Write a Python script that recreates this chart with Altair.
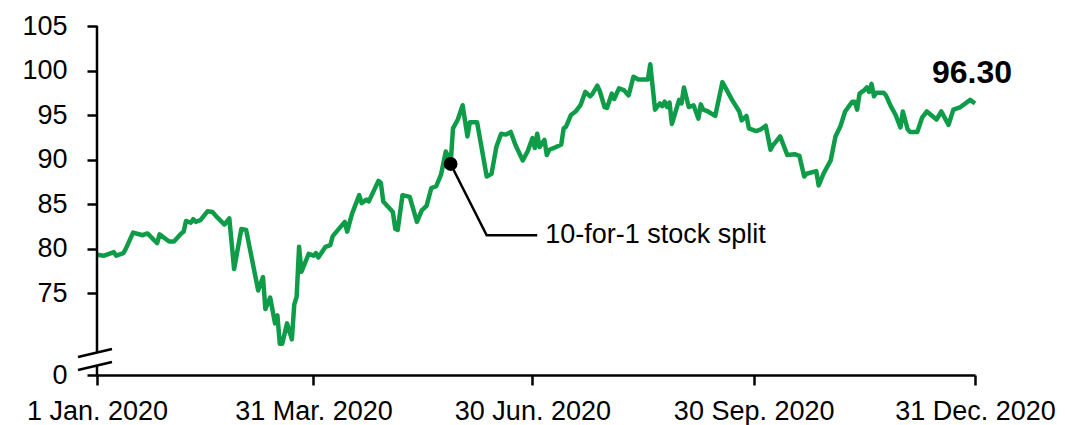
import altair as alt
import pandas as pd

# Closing price through 2020: calendar-day offset from 1 Jan. 2020 and price
day = [0, 3, 7, 8, 11, 12, 15, 19, 21, 25, 26, 30, 32, 35, 36, 37, 39, 40, 41, 43,
       46, 48, 50, 53, 55, 57, 60, 62, 67, 69, 70, 72, 74, 75, 76, 77, 79, 81, 82, 83,
       84, 85, 88, 90, 91, 92, 95, 97, 98, 103, 104, 106, 109, 110, 112, 113, 117, 118, 119, 123,
       124, 125, 127, 130, 133, 135, 137, 139, 141, 143, 145, 146, 147, 148, 150, 152, 154, 155, 158, 162,
       164, 166, 168, 170, 172, 174, 177, 179, 181, 182, 183, 184, 186, 187, 188, 190, 193, 194, 195, 197,
       199, 201, 203, 205, 206, 208, 209, 211, 212, 214, 215, 217, 219, 221, 223, 225, 229, 230, 232, 234,
       235, 236, 237, 238, 239, 242, 243, 244, 246, 248, 250, 251, 252, 254, 257, 260, 264, 267, 268, 270,
       271, 274, 276, 278, 280, 281, 284, 287, 290, 292, 294, 295, 299, 300, 302, 305, 307, 309, 311, 314,
       315, 316, 317, 319, 320, 321, 322, 323, 324, 327, 328, 330, 332, 334, 335, 337, 338, 341, 343, 345,
       349, 351, 354, 356, 359, 363, 365]
price = [79.3, 79.2, 79.6, 79.2, 79.5, 80.0, 81.8, 81.5, 81.7, 80.6, 81.6, 80.8, 80.8, 81.7, 81.9, 83.1, 82.9, 83.3, 83.0, 83.2,
         84.2, 84.1, 83.5, 82.7, 83.4, 77.7, 82.2, 82.1, 75.3, 76.8, 73.2, 74.5, 71.6, 72.5, 69.3, 69.3, 71.6, 69.8, 73.7, 74.6,
         80.2, 77.4, 79.4, 79.2, 79.5, 79.0, 80.2, 80.4, 81.4, 83.0, 81.9, 83.9, 86.0, 85.1, 85.5, 85.3, 87.6, 87.4, 85.3, 84.1,
         82.2, 82.1, 86.0, 85.8, 83.0, 84.3, 84.8, 86.8, 87.0, 88.3, 90.9, 90.3, 89.5, 93.5, 94.5, 96.1, 92.6, 94.2, 94.2, 88.1,
         88.4, 91.4, 92.9, 92.8, 93.1, 91.6, 89.9, 90.9, 92.4, 91.3, 92.9, 91.4, 92.2, 90.5, 91.1, 91.3, 91.7, 93.5, 93.7, 95.0,
         95.4, 96.1, 97.6, 97.1, 97.4, 98.3, 97.7, 95.9, 95.8, 97.4, 96.8, 98.0, 97.8, 97.2, 99.3, 99.0, 99.0, 100.7, 95.6, 96.3,
         96.0, 96.5, 95.9, 96.4, 94.0, 96.7, 96.3, 98.1, 95.9, 96.1, 94.6, 96.2, 95.6, 95.4, 94.9, 98.7, 96.7, 95.4, 94.4, 94.9,
         93.5, 93.2, 93.4, 93.8, 91.1, 91.6, 92.6, 90.5, 90.6, 90.4, 88.1, 88.4, 88.7, 87.1, 88.4, 89.9, 92.6, 93.7, 95.4, 96.5,
         96.5, 95.6, 97.4, 97.8, 98.1, 97.6, 98.5, 97.1, 97.5, 97.5, 97.2, 96.0, 95.0, 93.6, 95.4, 93.4, 93.1, 93.1, 94.7, 95.4,
         94.5, 95.4, 93.9, 95.6, 95.9, 96.7, 96.3]

# Stock split event and its callout
split_day = 147
split_label = "10-for-1 stock split"
leader_day = [147, 162, 183]
leader_price = [89.5, 81.5, 81.5]

# Axis ticks
x_tick_days = [0, 90, 181, 273, 365]
y_ticks = [65.8, 75, 80, 85, 90, 95, 100, 105]
y_floor, y_top = 65.8, 105

GREEN = "#0e9c48"
FONT = "Liberation Sans"
start = pd.Timestamp("2020-01-01")


def to_date(d):
    return (start + pd.Timedelta(days=d)).strftime("%Y-%m-%d")


def to_dt(d):
    t = start + pd.Timedelta(days=d)
    return alt.DateTime(year=t.year, month=t.month, date=t.day, utc=True)


df = pd.DataFrame({"date": [to_date(d) for d in day], "price": price})
split_df = df[df["date"] == to_date(split_day)]
last_df = df.tail(1)
leader_df = pd.DataFrame({"date": [to_date(d) for d in leader_day],
                          "price": leader_price,
                          "order": list(range(len(leader_day)))})
label_df = pd.DataFrame({"date": [to_date(leader_day[-1])], "price": [leader_price[-1]], "text": [split_label]})
one = pd.DataFrame({"k": [0]})

x_scale = alt.Scale(type="utc", domain=[to_dt(0), to_dt(365)])
y_scale = alt.Scale(domain=[y_floor, y_top], nice=False, zero=False)

x_enc = alt.X(
    "date:T", scale=x_scale, title=None,
    axis=alt.Axis(values=[to_dt(d) for d in x_tick_days],
                  labelExpr="utcFormat(datum.value, '%-d %b. %Y')",
                  grid=False, domainColor="black", domainWidth=2.5, tickColor="black", tickWidth=2.5,
                  tickSize=10, labelFontSize=27, labelFont=FONT, labelColor="black", labelPadding=13,
                  labelFlush=False, labelOverlap=False, labelBound=False),
)
y_enc = alt.Y(
    "price:Q", scale=y_scale, title=None,
    axis=alt.Axis(values=y_ticks, labelExpr="datum.value < 70 ? '0' : format(datum.value, 'd')",
                  grid=False, domain=False, tickColor="black", tickWidth=2.5, tickSize=10,
                  labelFontSize=27, labelFont=FONT, labelColor="black", labelPadding=20),
)

line = alt.Chart(df).mark_line(color=GREEN, strokeWidth=4.5, strokeJoin="round").encode(x=x_enc, y=y_enc)

# y-axis line with a break just above the zero mark
axis_upper = alt.Chart(one).mark_rule(color="black", strokeWidth=2.5).encode(
    x=alt.value(0), y=alt.value(0), y2=alt.value(327))
axis_lower = alt.Chart(one).mark_rule(color="black", strokeWidth=2.5).encode(
    x=alt.value(0), y=alt.value(340), y2=alt.value(349))
slash_a = alt.Chart(one).mark_rule(color="black", strokeWidth=2.5).encode(
    x=alt.value(-19), x2=alt.value(15), y=alt.value(331), y2=alt.value(323))
slash_b = alt.Chart(one).mark_rule(color="black", strokeWidth=2.5).encode(
    x=alt.value(-19), x2=alt.value(15), y=alt.value(344), y2=alt.value(336))

leader = alt.Chart(leader_df).mark_line(color="black", strokeWidth=2.5).encode(
    x="date:T", y="price:Q", order="order:Q")
dot = alt.Chart(split_df).mark_circle(color="black", size=190, opacity=1).encode(x="date:T", y="price:Q")
note = alt.Chart(label_df).mark_text(align="left", baseline="middle", dx=8, fontSize=27, font=FONT,
                                     color="black").encode(x="date:T", y="price:Q", text="text:N")
last_label = alt.Chart(last_df).mark_text(align="right", baseline="alphabetic", dx=37, dy=-20,
                                          fontSize=32, fontWeight="bold", font=FONT, color="black").encode(
    x="date:T", y="price:Q", text=alt.Text("price:Q", format=".2f"))

chart = alt.layer(
    line, axis_upper, axis_lower, slash_a, slash_b, leader, dot, note, last_label
).properties(
    width=878, height=349,
    padding={"left": 97, "top": 26, "right": 90, "bottom": 50},
    autosize=alt.AutoSizeParams(type="none"),
    background="white",
).configure_view(stroke=None)

chart.save("out.html", embed_options={"renderer": "svg", "actions": False})
